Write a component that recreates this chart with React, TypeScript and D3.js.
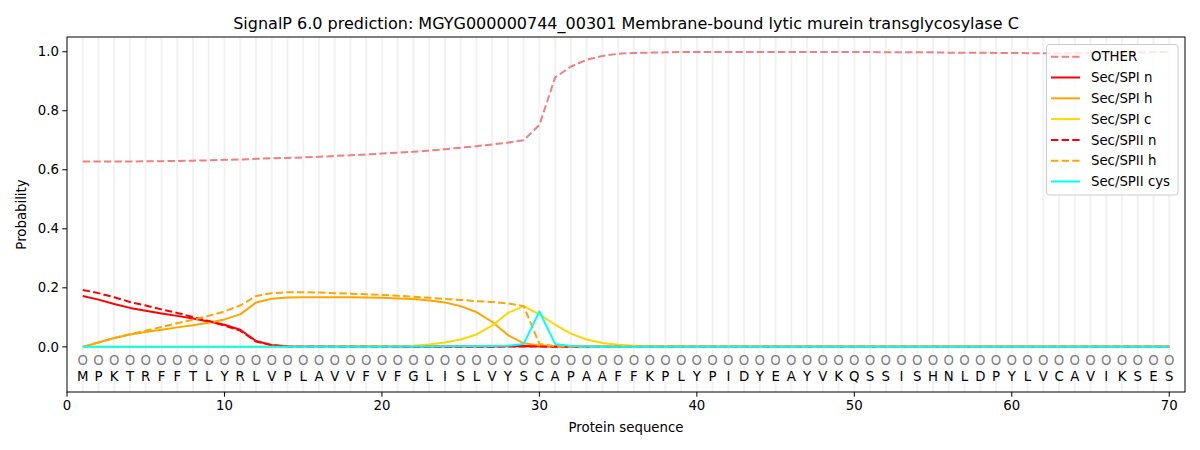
import React from "react";
import * as d3 from "d3";

const residues = "MPKTRFFTLYRLVPLAVVFVFGLISLVYSCAPAAFFKPLYPIDYEAYVKQSSISHNLDPYLVCAVIKSES".split("");
const positions = residues.map((_, i) => i + 1);

const otherVals = [
  0.628, 0.628, 0.628, 0.628, 0.629, 0.629, 0.630, 0.631, 0.632, 0.634,
  0.635, 0.637, 0.639, 0.640, 0.642, 0.644, 0.647, 0.649, 0.652, 0.655,
  0.658, 0.661, 0.665, 0.670, 0.675, 0.680, 0.686, 0.692, 0.700, 0.752,
  0.913, 0.950, 0.973, 0.986, 0.993, 0.996, 0.997, 0.998, 0.999, 0.999,
  0.999, 0.999, 0.999, 0.999, 0.999, 0.999, 0.999, 0.999, 0.999, 0.999,
  0.999, 0.998, 0.998, 0.998, 0.998, 0.997, 0.997, 0.997, 0.996, 0.996,
  0.995, 0.995, 0.995, 0.995, 0.995, 0.996, 0.997, 0.998, 0.999, 1.0,
];
const spiN = [
  0.172, 0.160, 0.145, 0.132, 0.122, 0.113, 0.105, 0.096, 0.086, 0.075,
  0.058, 0.020, 0.006, 0.002, 0.001, 0.001, 0.001, 0.001, 0.001, 0.001,
  0.001, 0.001, 0.001, 0.001, 0.001, 0.001, 0.001, 0.002, 0.003, 0.002,
  0.001, 0, 0, 0, 0, 0, 0, 0, 0, 0,
  0, 0, 0, 0, 0, 0, 0, 0, 0, 0,
  0, 0, 0, 0, 0, 0, 0, 0, 0, 0,
  0, 0, 0, 0, 0, 0, 0, 0, 0, 0,
];
const spiH = [
  0.000, 0.015, 0.030, 0.042, 0.050, 0.058, 0.066, 0.073, 0.082, 0.093,
  0.110, 0.150, 0.163, 0.167, 0.168, 0.168, 0.168, 0.168, 0.167, 0.166,
  0.164, 0.162, 0.157, 0.150, 0.138, 0.118, 0.085, 0.040, 0.012, 0.005,
  0.002, 0.001, 0, 0, 0, 0, 0, 0, 0, 0,
  0, 0, 0, 0, 0, 0, 0, 0, 0, 0,
  0, 0, 0, 0, 0, 0, 0, 0, 0, 0,
  0, 0, 0, 0, 0, 0, 0, 0, 0, 0,
];
const spiC = [
  0, 0, 0, 0, 0, 0, 0, 0, 0, 0,
  0, 0, 0, 0, 0, 0, 0.001, 0.001, 0.001, 0.002,
  0.002, 0.004, 0.008, 0.015, 0.025, 0.042, 0.072, 0.115, 0.138, 0.110,
  0.075, 0.045, 0.025, 0.013, 0.007, 0.004, 0.002, 0.001, 0.001, 0,
  0, 0, 0, 0, 0, 0, 0, 0, 0, 0,
  0, 0, 0, 0, 0, 0, 0, 0, 0, 0,
  0, 0, 0, 0, 0, 0, 0, 0, 0, 0,
];
const spiiN = [
  0.193, 0.182, 0.168, 0.152, 0.140, 0.127, 0.115, 0.101, 0.088, 0.072,
  0.055, 0.018, 0.005, 0.001, 0, 0, 0, 0, 0, 0,
  0, 0, 0, 0, 0, 0, 0, 0.001, 0.001, 0.001,
  0, 0, 0, 0, 0, 0, 0, 0, 0, 0,
  0, 0, 0, 0, 0, 0, 0, 0, 0, 0,
  0, 0, 0, 0, 0, 0, 0, 0, 0, 0,
  0, 0, 0, 0, 0, 0, 0, 0, 0, 0,
];
const spiiH = [
  0.000, 0.015, 0.030, 0.043, 0.055, 0.067, 0.080, 0.092, 0.105, 0.120,
  0.140, 0.172, 0.182, 0.185, 0.185, 0.184, 0.182, 0.180, 0.178, 0.176,
  0.173, 0.170, 0.166, 0.162, 0.159, 0.155, 0.152, 0.147, 0.138, 0.010,
  0.002, 0.001, 0, 0, 0, 0, 0, 0, 0, 0,
  0, 0, 0, 0, 0, 0, 0, 0, 0, 0,
  0, 0, 0, 0, 0, 0, 0, 0, 0, 0,
  0, 0, 0, 0, 0, 0, 0, 0, 0, 0,
];
const spiiCys = [
  0, 0, 0, 0, 0, 0, 0, 0, 0, 0,
  0, 0, 0, 0, 0, 0, 0, 0, 0, 0,
  0.001, 0.001, 0.001, 0.002, 0.002, 0.002, 0.003, 0.004, 0.010, 0.120,
  0.010, 0.003, 0.001, 0, 0, 0, 0, 0, 0, 0,
  0, 0, 0, 0, 0, 0, 0, 0, 0, 0,
  0, 0, 0, 0, 0, 0, 0, 0, 0, 0,
  0, 0, 0, 0, 0, 0, 0, 0, 0, 0,
];

const seriesNames = ["OTHER", "Sec/SPI n", "Sec/SPI h", "Sec/SPI c", "Sec/SPII n", "Sec/SPII h", "Sec/SPII cys"];
const seriesValues = [otherVals, spiN, spiH, spiC, spiiN, spiiH, spiiCys];
const seriesColors = ["#f08080", "#ff0000", "#ffa500", "#ffd700", "#ff0000", "#ffa500", "#00ffff"];
const seriesDashed = [true, false, false, false, true, true, false];

const xTicks = [0, 10, 20, 30, 40, 50, 60, 70];
const yTicks = [0, 0.2, 0.4, 0.6, 0.8, 1.0];

const W = 1200, H = 450;
const M = { left: 67, right: 1185, top: 37, bottom: 392 };
const FONT = "DejaVu Sans, sans-serif";

export default function App() {
  const x = d3.scaleLinear().domain([0, 71]).range([M.left, M.right]);
  const y = d3.scaleLinear().domain([-0.153, 1.05]).range([M.bottom, M.top]);
  const line = d3.line<number>().x((_, i) => x(positions[i])).y((v) => y(v));

  return (
    <svg width={W} height={H} style={{ display: "block", position: "absolute", left: 0, top: 0 }} fontFamily={FONT}>
      <rect x={0} y={0} width={W} height={H} fill="#fff" />
      <text x={(M.left + M.right) / 2} y={29} textAnchor="middle" fontSize={16} fill="#000">
        SignalP 6.0 prediction: MGYG000000744_00301 Membrane-bound lytic murein transglycosylase C
      </text>
      <defs>
        <clipPath id="plotclip">
          <rect x={M.left} y={M.top} width={M.right - M.left} height={M.bottom - M.top} />
        </clipPath>
      </defs>
      {positions.map((p) => (
        <line key={"g" + p} x1={x(p)} x2={x(p)} y1={M.top} y2={M.bottom} stroke="#808080" strokeOpacity={0.1} strokeWidth={2} />
      ))}
      {positions.map((p) => (
        <text key={"c" + p} x={x(p)} y={y(-0.045)} dy="0.35em" textAnchor="middle" fontSize={13.3} fill="#808080">O</text>
      ))}
      {residues.map((r, i) => (
        <text key={"r" + i} x={x(positions[i])} y={y(-0.1)} dy="0.35em" textAnchor="middle" fontSize={13.3} fill="#000">
          {r}
        </text>
      ))}
      <g clipPath="url(#plotclip)">
        {seriesValues.map((vals, k) => (
          <path
            key={"s" + k}
            d={line(vals) || ""}
            fill="none"
            stroke={seriesColors[k]}
            strokeWidth={2}
            strokeDasharray={seriesDashed[k] ? "7.4,3.2" : undefined}
            strokeLinejoin="round"
          />
        ))}
      </g>
      <rect x={M.left} y={M.top} width={M.right - M.left} height={M.bottom - M.top} fill="none" stroke="#000" strokeWidth={1} />
      {xTicks.map((t) => (
        <g key={"xt" + t}>
          <line x1={x(t)} x2={x(t)} y1={M.bottom} y2={M.bottom + 4.7} stroke="#000" />
          <text x={x(t)} y={M.bottom + 18} textAnchor="middle" fontSize={13.3} fill="#000">{t}</text>
        </g>
      ))}
      {yTicks.map((t) => (
        <g key={"yt" + t}>
          <line x1={M.left - 4.7} x2={M.left} y1={y(t)} y2={y(t)} stroke="#000" />
          <text x={M.left - 8} y={y(t)} dy="0.35em" textAnchor="end" fontSize={13.3} fill="#000">{t.toFixed(1)}</text>
        </g>
      ))}
      <text x={(M.left + M.right) / 2} y={432} textAnchor="middle" fontSize={13.3} fill="#000">Protein sequence</text>
      <text transform={`translate(26,${(M.top + M.bottom) / 2}) rotate(-90)`} textAnchor="middle" fontSize={13.3} fill="#000">Probability</text>
      <g>
        <rect x={1046.5} y={44.5} width={131.5} height={150.5} rx={3} fill="#fff" fillOpacity={0.8} stroke="#cccccc" />
        {seriesNames.map((n, k) => {
          const yy = 56.7 + k * 20.8;
          return (
            <g key={"l" + k}>
              <line x1={1051} x2={1080} y1={yy} y2={yy} stroke={seriesColors[k]} strokeWidth={2} strokeDasharray={seriesDashed[k] ? "7.4,3.2" : undefined} />
              <text x={1091} y={yy} dy="0.35em" fontSize={13.3} fill="#000">{n}</text>
            </g>
          );
        })}
      </g>
    </svg>
  );
}
